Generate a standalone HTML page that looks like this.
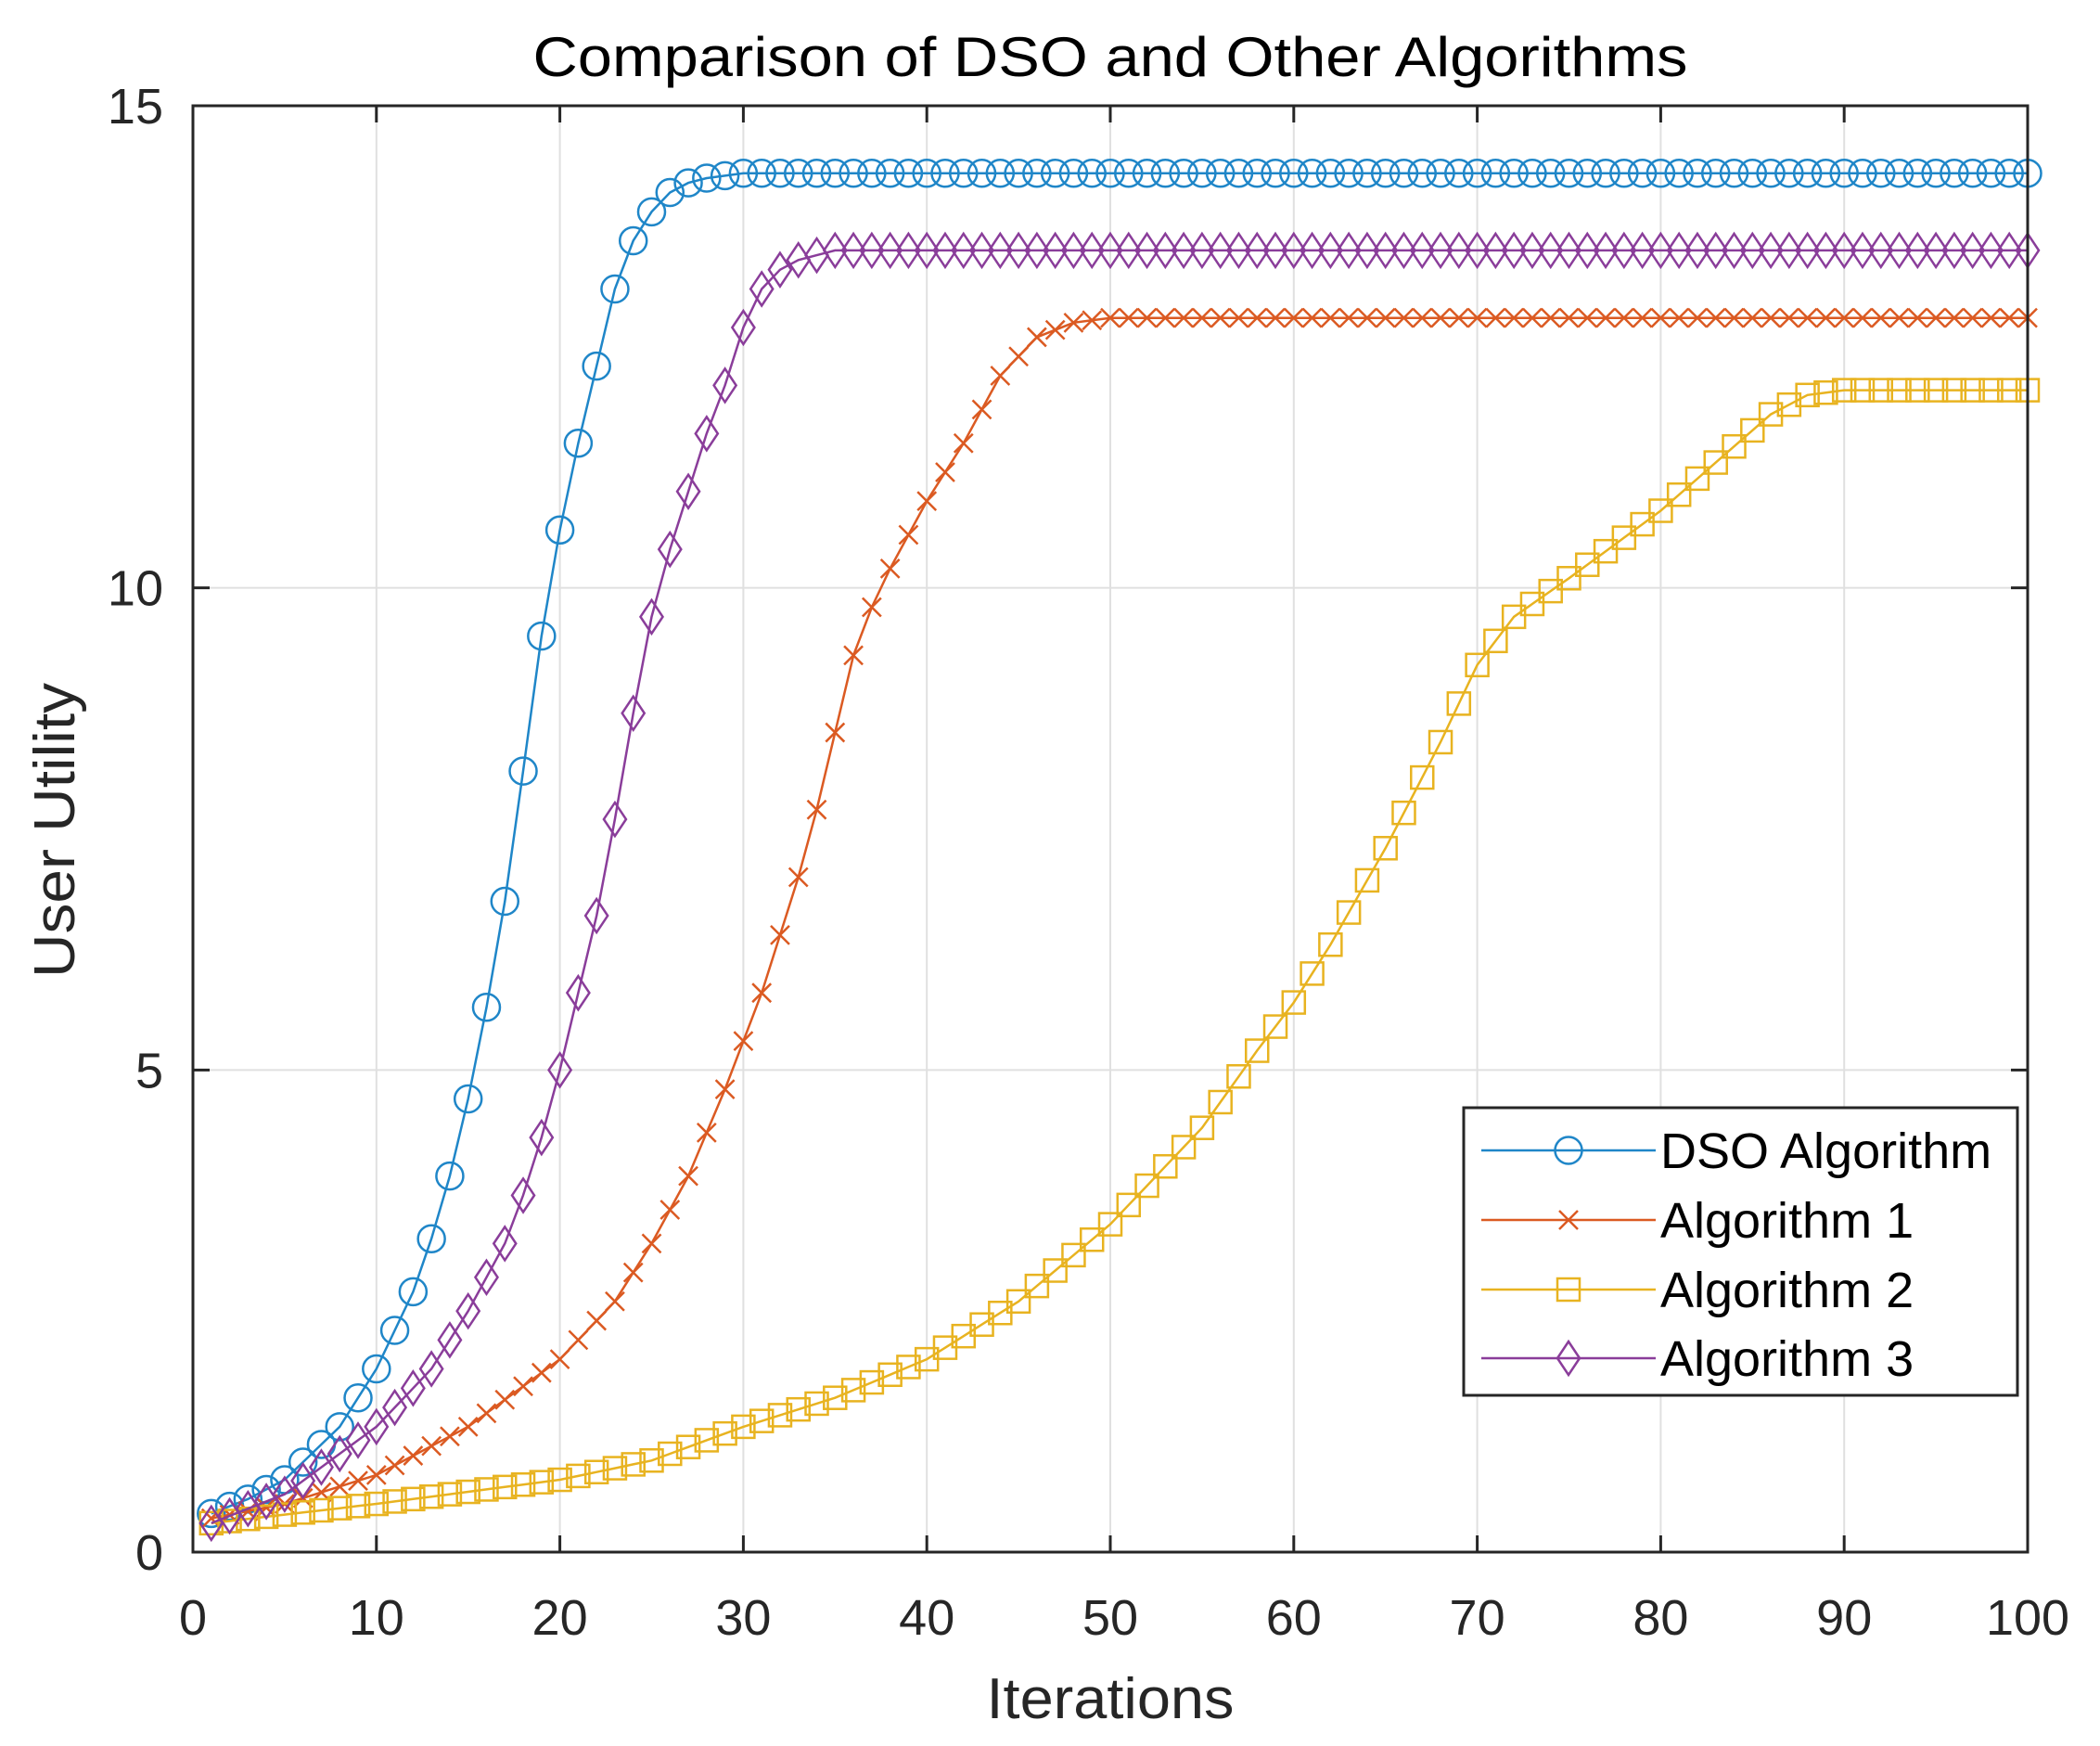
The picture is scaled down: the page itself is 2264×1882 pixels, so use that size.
<!DOCTYPE html>
<html><head><meta charset="utf-8"><style>
html,body{margin:0;padding:0;background:#fff;}
svg{display:block;font-family:"Liberation Sans",Arial,sans-serif;}
</style></head><body>
<svg id="s" width="2264" height="1882" viewBox="0 0 2264 1882" xmlns="http://www.w3.org/2000/svg">
<rect width="2264" height="1882" fill="#fff"/>
<g id="grid" stroke="#e0e0e0" stroke-width="2"></g>
<g id="series"></g>
<rect x="208" y="114" width="1978" height="1559" fill="none" stroke="#262626" stroke-width="3"/>
<g id="ticks" stroke="#262626" stroke-width="3"></g>
<g id="labels" font-size="54" fill="#262626"></g>
<text x="1197" y="82" font-size="60" text-anchor="middle" fill="#000" textLength="1245" lengthAdjust="spacingAndGlyphs">Comparison of DSO and Other Algorithms</text>
<text x="1197" y="1852" font-size="62" text-anchor="middle" fill="#262626" textLength="267" lengthAdjust="spacingAndGlyphs">Iterations</text>
<text transform="translate(80,895) rotate(-90)" font-size="62" text-anchor="middle" fill="#262626" textLength="318" lengthAdjust="spacingAndGlyphs">User Utility</text>
<g id="legend">
<rect x="1578" y="1194" width="597" height="310" fill="#fff" stroke="#262626" stroke-width="3"/>
</g>
</svg>
<script>
const ns="http://www.w3.org/2000/svg";
const X0=208,X1=2186,Y0=1673,Y1=114;
const px=x=>X0+(X1-X0)*x/100, py=y=>Y0-(Y0-Y1)*y/15;
function el(p,t,a,txt){const e=document.createElementNS(ns,t);for(const k in a)e.setAttribute(k,a[k]);if(txt!=null)e.textContent=txt;p.appendChild(e);return e;}
const g=document.getElementById('grid'),tk=document.getElementById('ticks'),lb=document.getElementById('labels');
for(let i=1;i<10;i++){const x=px(i*10);el(g,'line',{x1:x,x2:x,y1:Y1,y2:Y0});}
for(const v of [5,10]){const y=py(v);el(g,'line',{x1:X0,x2:X1,y1:y,y2:y});}
for(let i=0;i<=10;i++){const x=px(i*10);el(tk,'line',{x1:x,x2:x,y1:Y0,y2:Y0-18});el(tk,'line',{x1:x,x2:x,y1:Y1,y2:Y1+18});
 el(lb,'text',{x:x,y:1762,'text-anchor':'middle'},String(i*10));}
for(const v of [0,5,10,15]){const y=py(v);el(tk,'line',{x1:X0,x2:X0+18,y1:y,y2:y});el(tk,'line',{x1:X1,x2:X1-18,y1:y,y2:y});
 el(lb,'text',{x:176,y:y+19,'text-anchor':'end'},String(v));}
function interp(k,x){for(let i=0;i<k.length-1;i++){if(x>=k[i][0]&&x<=k[i+1][0]){const t=(x-k[i][0])/(k[i+1][0]-k[i][0]);return k[i][1]+t*(k[i+1][1]-k[i][1]);}}return k[k.length-1][1];}
const S=[
 {c:'#1f86c8',m:'o',k:[[1,0.4],[3,0.55],[5,0.75],[8,1.3],[10,1.9],[12,2.7],[13,3.25],[14,3.9],[15,4.7],[16,5.65],[17,6.75],[18,8.1],[19,9.5],[20,10.6],[21,11.5],[22,12.3],[23,13.1],[24,13.6],[25,13.9],[26,14.1],[27,14.2],[28,14.25],[30,14.3],[100,14.3]]},
 {c:'#db5a22',m:'x',k:[[1,0.35],[5,0.5],[10,0.8],[15,1.3],[20,2.0],[23,2.6],[25,3.2],[27,3.9],[29,4.8],[30,5.3],[31,5.8],[32,6.4],[33,7.0],[34,7.7],[35,8.5],[36,9.3],[37,9.8],[38,10.2],[40,10.9],[42,11.5],[44,12.2],[46,12.6],[48,12.75],[50,12.8],[100,12.8]]},
 {c:'#e8b320',m:'s',k:[[1,0.3],[10,0.5],[20,0.75],[25,0.95],[30,1.3],[35,1.6],[40,2.0],[45,2.6],[50,3.4],[55,4.4],[58,5.2],[60,5.7],[62,6.3],[65,7.3],[68,8.4],[70,9.2],[72,9.7],[75,10.1],[80,10.8],[83,11.3],[86,11.8],[88,12.0],[90,12.05],[100,12.05]]},
 {c:'#8a3d9a',m:'d',k:[[1,0.3],[5,0.6],[10,1.3],[13,1.9],[15,2.5],[17,3.2],[18,3.7],[19,4.3],[20,5.0],[21,5.8],[22,6.6],[23,7.6],[24,8.7],[25,9.7],[26,10.4],[27,11.0],[28,11.6],[29,12.1],[30,12.7],[31,13.1],[32,13.3],[33,13.4],[35,13.5],[100,13.5]]}
];
function marker(p,m,x,y,c){const a={fill:'none',stroke:c,'stroke-width':2.5};
 if(m=='o')el(p,'circle',Object.assign({cx:x,cy:y,r:14.5},a));
 else if(m=='x'){el(p,'path',Object.assign({d:`M${x-10} ${y-10}L${x+10} ${y+10}M${x-10} ${y+10}L${x+10} ${y-10}`},a));}
 else if(m=='s')el(p,'rect',Object.assign({x:x-12,y:y-12,width:24,height:24},a));
 else el(p,'path',Object.assign({d:`M${x} ${y-18}L${x+12} ${y}L${x} ${y+18}L${x-12} ${y}Z`},a));}
const sg=document.getElementById('series');
for(const s of S){let d='';const pts=[];for(let i=1;i<=100;i++){const x=px(i),y=py(interp(s.k,i));pts.push([x,y]);d+=(i==1?'M':'L')+x.toFixed(1)+' '+y.toFixed(1);}
 el(sg,'path',{d:d,fill:'none',stroke:s.c,'stroke-width':2.5});
 for(const [x,y] of pts)marker(sg,s.m,x,y,s.c);}
const lg=document.getElementById('legend');const names=['DSO Algorithm','Algorithm 1','Algorithm 2','Algorithm 3'];const ys=[1240,1315,1390,1464];
S.forEach((s,i)=>{const y=ys[i];el(lg,'line',{x1:1597,x2:1785,y1:y,y2:y,stroke:s.c,'stroke-width':2.5});marker(lg,s.m,1691,y,s.c);
 el(lg,'text',{x:1790,y:y+19,'font-size':54,fill:'#000'},names[i]);});
</script>
</body></html>
